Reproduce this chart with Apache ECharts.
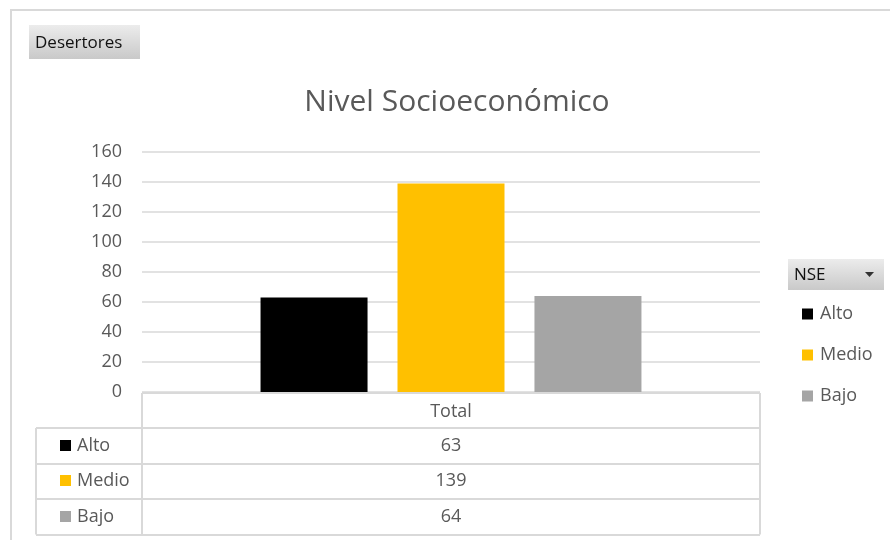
<!DOCTYPE html>
<html>
<head>
<meta charset="utf-8">
<title>Nivel Socioeconómico</title>
<script src="https://cdn.jsdelivr.net/npm/echarts@6/dist/echarts.min.js"></script>
<style>
  html, body { margin: 0; padding: 0; background: #ffffff; }
  #chart { width: 890px; height: 540px; }
</style>
</head>
<body>
<div id="chart"></div>
<script>
// Pivot chart data: dropouts by socioeconomic level
const categories = ['Total'];
const seriesNames = ['Alto', 'Medio', 'Bajo'];
const altoValues = [63];
const medioValues = [139];
const bajoValues = [64];
const yTicks = { min: 0, max: 160, step: 20 };

const colors = ['#000000', '#FFC000', '#A5A5A5'];
const seriesValues = [altoValues, medioValues, bajoValues];

const FONT = '"Open Sans", "Noto Sans", sans-serif';
const TEXT = '#595959';
const RULE = '#d9d9d9';

// plot area
const G = { left: 142, top: 152, right: 130, height: 240 };
const plotRight = 890 - G.right;
const plotBottom = G.top + G.height;

// data table geometry
const rowH = 35.5;
const labelColLeft = 36;
const headerBottom = plotBottom + 36;

const chart = echarts.init(document.getElementById('chart'), null, { renderer: 'canvas' });

function tableGraphics() {
  const els = [];
  const line = (x1, y1, x2, y2) => els.push({
    type: 'line', silent: true,
    shape: { x1, y1, x2, y2 },
    style: { stroke: RULE, lineWidth: 2 }
  });
  const tableBottom = headerBottom + rowH * seriesNames.length;
  // header cell
  line(G.left, plotBottom + 1, plotRight, plotBottom + 1);
  line(G.left, plotBottom + 1, G.left, tableBottom);
  line(plotRight, plotBottom + 1, plotRight, tableBottom);
  // body rows
  for (let i = 0; i <= seriesNames.length; i++) {
    const y = Math.round(headerBottom + rowH * i);
    line(labelColLeft, y, plotRight, y);
  }
  line(labelColLeft, headerBottom, labelColLeft, tableBottom);

  seriesNames.forEach((name, i) => {
    const cy = headerBottom + rowH * i + rowH / 2;
    els.push({
      type: 'rect', silent: true,
      shape: { x: 60, y: Math.round(cy - 6), width: 11, height: 11 },
      style: { fill: colors[i] }
    });
    els.push({
      type: 'text', silent: true,
      x: 77, y: cy,
      style: { text: name, font: '18px ' + FONT, fill: TEXT, verticalAlign: 'middle', align: 'left' }
    });
    els.push({
      type: 'text', silent: true,
      x: (G.left + plotRight) / 2, y: cy,
      style: { text: String(seriesValues[i][0]), font: '18px ' + FONT, fill: TEXT, verticalAlign: 'middle', align: 'center' }
    });
  });

  // outer frame of the chart object
  line(10, 10, 890, 10);
  line(11, 10, 11, 540);

  // "Desertores" field button
  els.push({
    type: 'rect', silent: true,
    shape: { x: 29, y: 25, width: 111, height: 34 },
    style: {
      fill: new echarts.graphic.LinearGradient(0, 0, 0, 1, [
        { offset: 0, color: '#ececec' }, { offset: 1, color: '#c9c9c9' }
      ])
    }
  });
  els.push({
    type: 'text', silent: true, x: 35, y: 43,
    style: { text: 'Desertores', font: '17px ' + FONT, fill: '#111111', verticalAlign: 'middle' }
  });

  // "NSE" legend field button
  els.push({
    type: 'rect', silent: true,
    shape: { x: 788, y: 259, width: 96, height: 31 },
    style: {
      fill: new echarts.graphic.LinearGradient(0, 0, 0, 1, [
        { offset: 0, color: '#ececec' }, { offset: 1, color: '#c9c9c9' }
      ])
    }
  });
  els.push({
    type: 'text', silent: true, x: 794, y: 275,
    style: { text: 'NSE', font: '17px ' + FONT, fill: '#111111', verticalAlign: 'middle' }
  });
  els.push({
    type: 'polygon', silent: true,
    shape: { points: [[865, 272], [874, 272], [869.5, 277]] },
    style: { fill: '#333333' }
  });
  return els;
}

chart.setOption({
  animation: false,
  backgroundColor: '#ffffff',
  textStyle: { fontFamily: FONT },
  title: {
    text: 'Nivel Socioeconómico',
    left: 452, top: 82, textAlign: 'center',
    textStyle: { fontFamily: FONT, fontSize: 30, fontWeight: 'normal', color: TEXT }
  },
  legend: {
    orient: 'vertical',
    left: 797, top: 300,
    icon: 'rect',
    itemWidth: 11, itemHeight: 11,
    itemGap: 23,
    data: seriesNames,
    textStyle: { fontFamily: FONT, fontSize: 18, color: TEXT, lineHeight: 17, padding: [0, 0, 0, 2] }
  },
  grid: { left: G.left, top: G.top, right: G.right, height: G.height, containLabel: false },
  xAxis: {
    type: 'category',
    data: categories,
    axisLine: { show: false },
    axisTick: { show: false },
    axisLabel: { margin: 20, verticalAlign: 'middle', fontSize: 18, color: TEXT, fontFamily: FONT }
  },
  yAxis: {
    type: 'value',
    min: yTicks.min, max: yTicks.max, interval: yTicks.step,
    axisLine: { show: false },
    axisTick: { show: false },
    axisLabel: { margin: 20, fontSize: 18, color: TEXT, fontFamily: FONT },
    splitLine: { lineStyle: { color: RULE, width: 1.5 } }
  },
  series: seriesNames.map((name, i) => ({
    name,
    type: 'bar',
    data: seriesValues[i],
    barWidth: 107,
    barGap: '28%',
    itemStyle: { color: colors[i] }
  })),
  graphic: tableGraphics()
});
</script>
</body>
</html>
